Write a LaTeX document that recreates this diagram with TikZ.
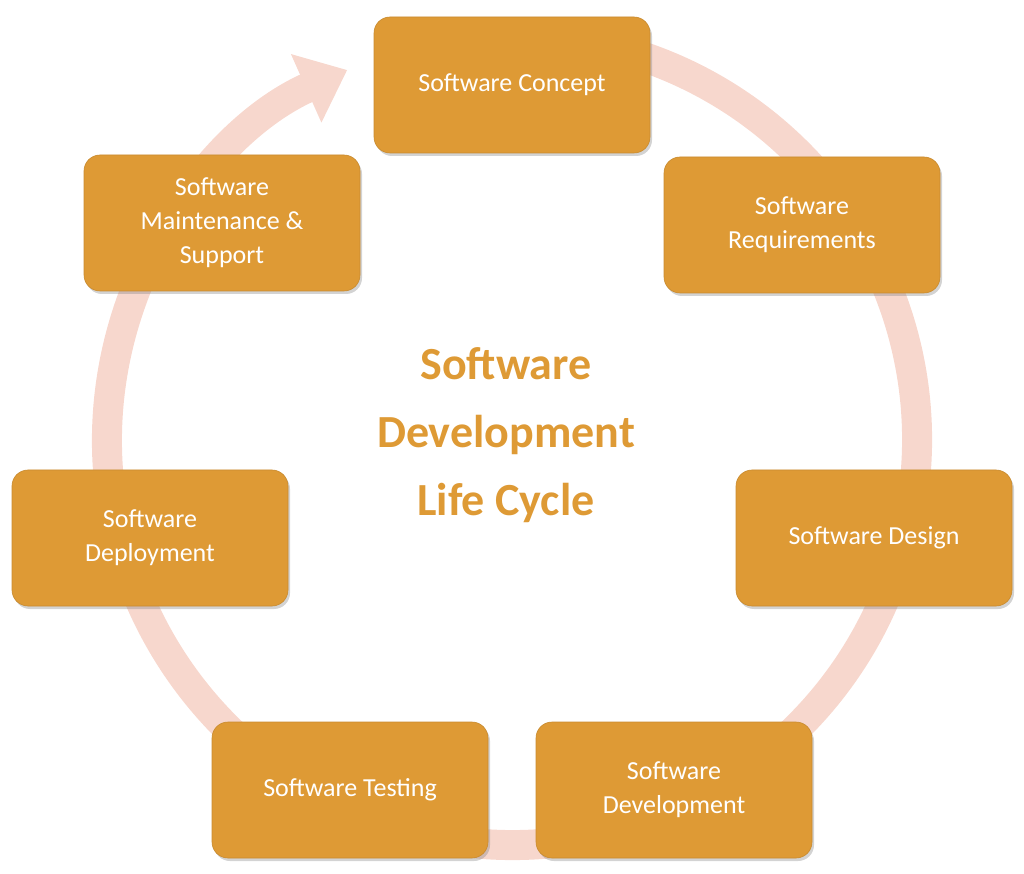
\documentclass[tikz,border=0pt]{standalone}
\usepackage{fontspec}
\setmainfont{Carlito}
\usetikzlibrary{arrows.meta,shadows}
\definecolor{box}{HTML}{DE9A35}
\definecolor{ring}{HTML}{F7D7CD}
\begin{document}
\begin{tikzpicture}[x=1pt,y=1pt,
  stage/.style={draw=box!90!black,line width=0.6pt,fill=box,rounded corners=16pt,minimum width=276pt,minimum height=136pt,
    text=white,font=\fontsize{26}{34}\selectfont,align=center,
    drop shadow={shadow xshift=2pt,shadow yshift=-3pt,opacity=0.35}}]
\useasboundingbox (0,0) rectangle (1024,873);
\coordinate (c) at (512,433);
\draw[ring,line width=30pt,-{Triangle[length=0pt 1.5,width=0pt 2.4]}] (c) ++(80:405) arc[start angle=80,end angle=-246,radius=405];
\node[stage] (a) at (512,788) {Software Concept};
\node[stage] (b) at (802,648) {Software\\Requirements};
\node[stage] (d) at (874,335) {Software Design};
\node[stage] (e) at (674,83) {Software\\Development};
\node[stage] (f) at (350,83) {Software Testing};
\node[stage] (g) at (150,335) {Software\\Deployment};
\node[stage] (h) at (222,650) {Software\\Maintenance \&\\Support};
\node[text=box,font=\bfseries\fontsize{46}{68}\selectfont,align=center] (t) at (506,438) {Software\\Development\\Life Cycle};
\end{tikzpicture}
\end{document}
